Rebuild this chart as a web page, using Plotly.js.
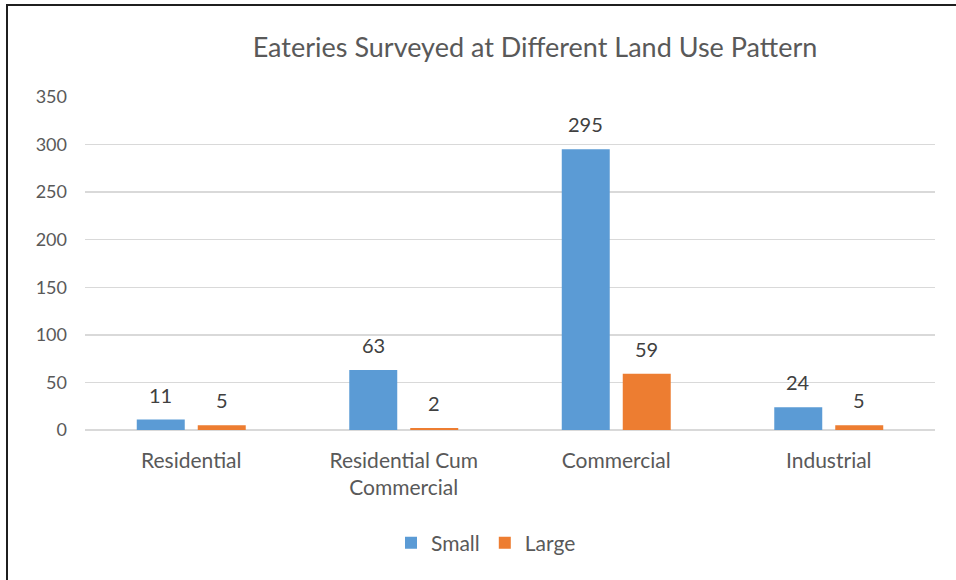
<!DOCTYPE html>
<html>
<head>
<meta charset="utf-8">
<script src="https://cdn.plot.ly/plotly-3.0.1.min.js"></script>
<style>
html,body{margin:0;padding:0;background:#fff;}
#wrap{position:relative;width:956px;height:580px;}
#chart{width:956px;height:580px;}
#frame{position:absolute;left:6px;top:4px;width:960px;height:580px;border-top:2px solid #1f1f1f;border-left:2px solid #1f1f1f;pointer-events:none;}
</style>
</head>
<body>
<div id="wrap">
<div id="chart"></div>
<div id="frame"></div>
</div>
<script>
const categories = ["Residential", "Residential Cum<br>Commercial", "Commercial", "Industrial"];
const smallValues = [11, 63, 295, 24];
const largeValues = [5, 2, 59, 5];
const seriesNames = ["Small", "Large"];
const yTicks = [0, 50, 100, 150, 200, 250, 300, 350];

const FONT = "Lato, 'Open Sans', sans-serif";
const colors = ["#5B9BD5", "#ED7D31"];

const traces = [
  {type: "bar", name: seriesNames[0], x: categories, y: smallValues, marker: {color: colors[0]}, hoverinfo: "none"},
  {type: "bar", name: seriesNames[1], x: categories, y: largeValues, marker: {color: colors[1]}, hoverinfo: "none"}
];

const annotations = [];
[smallValues, largeValues].forEach((vals, si) => {
  vals.forEach((v, i) => {
    annotations.push({
      x: categories[i], y: v, xref: "x", yref: "y",
      text: String(v), showarrow: false,
      xanchor: "center", yanchor: "middle",
      xshift: si === 0 ? -30.5 : 30.5, yshift: 25,
      font: {family: FONT, size: 20, color: "#404040"}
    });
  });
});

const layout = {
  width: 956, height: 580,
  margin: {l: 85, r: 21, t: 97, b: 150},
  paper_bgcolor: "#fff", plot_bgcolor: "#fff",
  title: {text: "Eateries Surveyed at Different Land Use Pattern",
          font: {family: FONT, size: 27, color: "#595959"},
          xref: "container", x: 535/956, xanchor: "center",
          yref: "container", y: 1 - 48/580, yanchor: "middle"},
  barmode: "group", bargap: 0.426, bargroupgap: 0.213,
  xaxis: {showgrid: false, showline: false, zeroline: false, ticks: "",
          tickfont: {family: FONT, size: 21, color: "#595959"},
          ticklabelstandoff: 16, fixedrange: true},
  yaxis: {range: [0, 350], tickvals: yTicks, showgrid: true,
          gridcolor: "#D9D9D9", gridwidth: 1.5, zeroline: true,
          zerolinecolor: "#D9D9D9", zerolinewidth: 1.5, showline: false, ticks: "",
          tickfont: {family: FONT, size: 18, color: "#595959"},
          ticklabelstandoff: 17, fixedrange: true},
  legend: {orientation: "h", xref: "paper", x: (486-85)/850, xanchor: "center",
           yref: "paper", y: (430-543)/333, yanchor: "middle",
           font: {family: FONT, size: 21, color: "#595959"},
           itemwidth: 30, traceorder: "normal"},
  annotations: annotations,
  showlegend: true
};

Plotly.newPlot("chart", traces, layout, {staticPlot: true, displayModeBar: false});
</script>
</body>
</html>
